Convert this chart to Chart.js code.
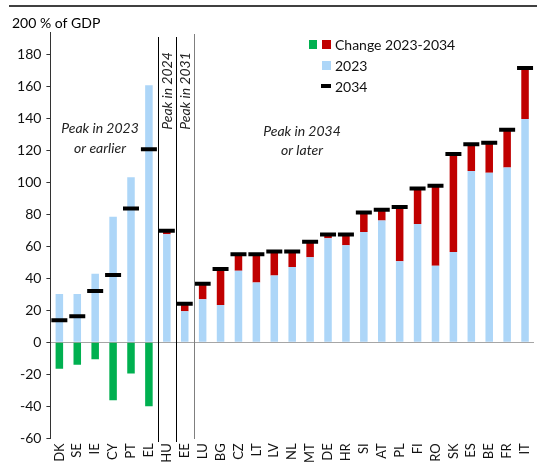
<!DOCTYPE html>
<html>
<head>
<meta charset="utf-8">
<script src="https://cdn.jsdelivr.net/npm/chart.js@4"></script>
<style>
  html, body { margin: 0; padding: 0; background: #fff; overflow: hidden; }
  #wrap { position: relative; width: 546px; height: 465px; }
</style>
</head>
<body>
<div id="wrap"><canvas id="myChart" width="546" height="465"></canvas></div>
<script>
// debt ratios, % of GDP
const countries = ['DK', 'SE', 'IE', 'CY', 'PT', 'EL', 'HU', 'EE', 'LU', 'BG', 'CZ', 'LT', 'LV', 'NL',
    'MT', 'DE', 'HR', 'SI', 'AT', 'PL', 'FI', 'RO', 'SK', 'ES', 'BE', 'FR', 'IT'];
const debt2023 = [30.2, 30.2, 42.7, 78.3, 103, 160.5, 67.5, 19.4, 26.9, 23.3, 44.6, 37.3, 41.6, 47,
    53.1, 65, 60.6, 68.9, 76, 50.6, 73.9, 47.7, 56.4, 107, 105.8, 109.1, 139.4];
const debt2034 = [13.7, 16.2, 32, 42, 83.5, 120.5, 69.6, 24, 36.6, 45.8, 55, 55, 56.6, 56.6,
    62.7, 67.3, 67.3, 81, 82.7, 84.4, 96, 97.7, 117.5, 123.7, 124.6, 132.7, 171.2];
const yTicks = [-60, -40, -20, 0, 20, 40, 60, 80, 100, 120, 140, 160, 180, 200];

const blue = '#ADD6F8', red = '#C00000', green = '#00B050';
const font = 'Lato';

// change split in rise (stacked on 2023) and fall (drawn down from 0)
let rise = [], fall = [];
for (let i = 0; i < countries.length; i++) {
    let d = +(debt2034[i] - debt2023[i]).toFixed(1);
    rise.push(d > 0 ? d : null);
    fall.push(d < 0 ? d : null);
}

const extras = {
    id: 'extras',
    afterDraw(chart) {
        let ctx = chart.ctx;
        let x = chart.scales.x, y = chart.scales.y;
        let step = x.getPixelForValue(1) - x.getPixelForValue(0);
        let edge = (i) => x.getPixelForValue(i) + step / 2;
        ctx.save();

        // frame line on top
        ctx.strokeStyle = '#000';
        ctx.lineWidth = 1.5;
        ctx.beginPath(); ctx.moveTo(9, 6); ctx.lineTo(546, 6); ctx.stroke();

        // cover axis top, write unit
        ctx.fillStyle = '#fff';
        ctx.fillRect(40, 14, 60, 18);
        ctx.fillStyle = '#000';
        ctx.font = '14px ' + font;
        ctx.textBaseline = 'middle';
        ctx.fillText('200 % of GDP', 12, 23);

        // group separators
        ctx.lineWidth = 1;
        ctx.strokeStyle = '#000';
        [[edge(5), 37, 442], [edge(6), 37, 442]].forEach(l => {
            ctx.beginPath(); ctx.moveTo(Math.round(l[0]) + 0.5, l[1]); ctx.lineTo(Math.round(l[0]) + 0.5, l[2]); ctx.stroke();
        });
        ctx.strokeStyle = '#7f7f7f';
        ctx.beginPath(); ctx.moveTo(Math.round(edge(7)) + 0.5, 34); ctx.lineTo(Math.round(edge(7)) + 0.5, 439); ctx.stroke();

        // group labels
        ctx.fillStyle = '#222';
        ctx.font = 'italic 14px ' + font;
        ctx.textAlign = 'center';
        ctx.fillText('Peak in 2023', 100, 128);
        ctx.fillText('or earlier', 100, 148);
        ctx.fillText('Peak in 2034', 302, 131);
        ctx.fillText('or later', 302, 150);
        [[6, 'Peak in 2024'], [7, 'Peak in 2031']].forEach(t => {
            ctx.save();
            ctx.translate(x.getPixelForValue(t[0]) + 1, 91);
            ctx.rotate(-Math.PI / 2);
            ctx.fillText(t[1], 0, 0);
            ctx.restore();
        });

        // legend
        ctx.textAlign = 'left';
        ctx.font = '14px ' + font;
        ctx.fillStyle = green; ctx.fillRect(309, 40, 8, 9);
        ctx.fillStyle = red; ctx.fillRect(322, 40, 9, 9);
        ctx.fillStyle = blue; ctx.fillRect(322, 61, 9, 9);
        ctx.fillStyle = '#000'; ctx.fillRect(321, 84, 10, 4);
        ctx.fillStyle = '#111';
        ctx.fillText('Change 2023-2034', 335, 45);
        ctx.fillText('2023', 335, 66);
        ctx.fillText('2034', 335, 87);
        ctx.restore();
    }
};

let ctx = document.getElementById('myChart').getContext('2d');
let myChart = new Chart(ctx, {
    data: {
        labels: countries,
        datasets: [{
            type: 'line',
            label: '2034',
            data: debt2034,
            stack: 'marker',
            showLine: false,
            pointStyle: 'line',
            pointRadius: 8,
            pointBorderWidth: 4,
            borderColor: '#000',
            backgroundColor: '#000',
            order: -1
        }, {
            type: 'bar',
            label: '2023',
            data: debt2023,
            stack: 'debt',
            backgroundColor: blue
        }, {
            type: 'bar',
            label: 'Change 2023-2034',
            data: rise,
            stack: 'debt',
            backgroundColor: red
        }, {
            type: 'bar',
            label: 'Change 2023-2034 ',
            data: fall,
            stack: 'debt',
            backgroundColor: green
        }]
    },
    options: {
        responsive: false,
        animation: false,
        layout: { padding: { top: 22, right: 0, left: 0, bottom: 0 } },
        datasets: { bar: { categoryPercentage: 1, barPercentage: 0.42 } },
        plugins: { legend: { display: false }, tooltip: { enabled: false } },
        scales: {
            x: {
                stacked: true,
                grid: { display: false, drawTicks: false },
                border: { display: false },
                ticks: {
                    autoSkip: false,
                    minRotation: 90,
                    maxRotation: 90,
                    padding: 5,
                    color: '#111',
                    font: { family: font, size: 13 }
                },
                afterFit: (s) => { s.height = 26.7; }
            },
            y: {
                stacked: true,
                min: -60,
                max: 200,
                afterBuildTicks: (s) => { s.ticks = yTicks.map(v => ({ value: v })); },
                grid: {
                    color: (c) => c.tick && c.tick.value === 0 ? '#a6a6a6' : 'rgba(0,0,0,0)',
                    tickColor: '#333',
                    tickLength: 4,
                    lineWidth: 1
                },
                border: { display: true, color: '#333', width: 1 },
                ticks: {
                    padding: 5,
                    color: '#111',
                    font: { family: font, size: 14 },
                    callback: (v) => v === 200 ? '' : v
                },
                afterFit: (s) => { s.width = 50.4; }
            }
        }
    },
    plugins: [extras]
});
</script>
</body>
</html>
